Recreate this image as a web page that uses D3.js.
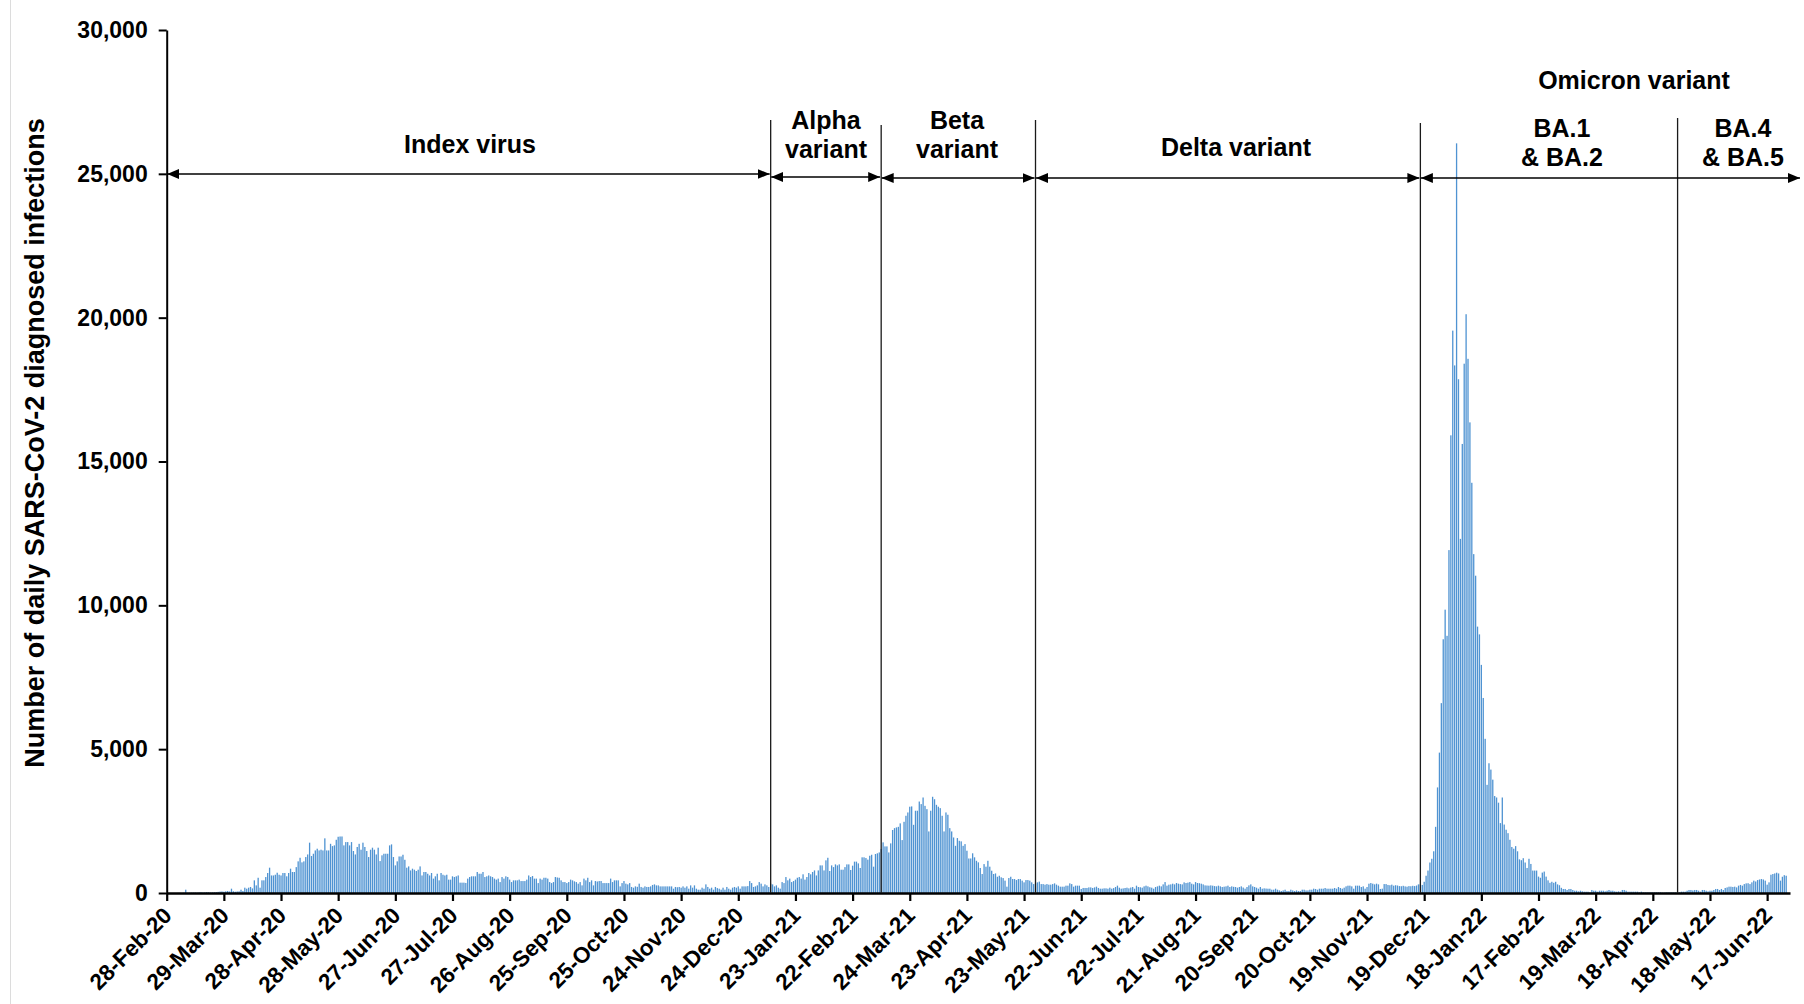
<!DOCTYPE html>
<html>
<head>
<meta charset="utf-8">
<script src="https://cdn.jsdelivr.net/npm/d3@7"></script>
<style>
  body { margin: 0; background: #fff; }
  svg text { font-family: Arial, "Liberation Sans", sans-serif; font-weight: bold; fill: #000; }
</style>
</head>
<body>
<svg id="chart" width="1804" height="1004"></svg>
<script>
// daily diagnosed infections, one value per day starting 28-Feb-20
let firstDay = '2020-02-28';

let indexVirusCases = [
  0,1,0,0,0,0,3,4,1,7, 115,5,8,10,12,15,10,20,25,15, 20,30,25,15,20,25,30,40,50,55,
  45,60,70,55,150,60,45,55,60,115, 70,185,150,185,210,160,
  440,265,530,185,440,440,555,695,880,610, 610,635,705,635,610,695,695,580,695,845,
  730,730,900,1100,1225,1065,1100,1250,1340,1750, 1285,1365,1480,1540,1480,1505,1480,1900,1480,1480,
  1710,1630,1655,1850,1955,1965,1965,1655,1770,1770, 1655,1770,1460,1340,1600,1710,1505,1750,1600,1460,
  1250,1505,1575,1505,1340,1575,1110,1310,1365,1365, 1365,1655,1690,1250,960,1100,1270,1270,1330,1155,
  880,925,785,845,810,765,810,925,610,730, 730,670,610,695,500,580,670,440,695,635,
  610,635,465,465,580,555,580,610,360,360, 360,350,500,555,580,580,580,730,670,670,
  730,555,580,610,580,555,500,465,500,380, 555,500,580,555,465,380,440,440,
  440,465,415,415,415,465,610,555,590,500,500,345,500,465,530,530,500,380,345,380,555,540,
  530,440,380,380,345,380,465,440,405,380,325,380,265,500,440,530,380,440,265,415,400,
  415,415,345,345,345,345,500,380,440,440,440,230,345,415,325,300,345,210,185,230,215,
  325,210,185,230,210,210,230,280,300,265,265,230,230,230,230,230,230,230,150,210,200,
  210,185,230,185,230,150,265,185,265,150,115,115,185,150,300,210,150,185,115,210,170,
  150,115,185,115,210,150,115,185,210,185,230,150,230,230,230,240,
  415,345,210,230,265,380,325,230,300,265,210
];

let alphaCases = [
  325,300,230,265,185,150,380,345,555,440, 500,380,415,465,530,555,500,650,465,555,
  695,650,730,785,610,785,960,960,785,1135, 1225,765,960,900,995,960,995,810,810,900,
  995,995,800,950,1090,1090,1030,870,1240,1240, 1215,1160,1295,1330,915,1355,1380,1410
];

let betaCases = [
  1530,1760,1620,1620,1410,1725,2190,2255,2280,2300, 2420,1840,2475,2685,2800,3000,3010,
  2370,2860,2860,3180,3090,3320,3030,2915,2140,2860, 3345,3260,3065,3000,2950,2685,2140,2800,
  2720,2255,2140,1930,1640,1910,1815,1795,1640,1700, 1470,1200,1200,1380,1240,1120,1065,870,660,1005,
  915,1120,915,775,660,680,565,600,545,
  520,430,220,520,565,485,485,450,485,485, 430,370,450,450,430,370,310
];

let deltaCases = [
  335,370,395,310,310,290,310,290,290,310, 335,290,255,220,220,220,255,255,335,310,
  220,255,255,255,140,175,175,175,195,195, 175,195,220,175,
  150,150,162,162,150,185,150,170,208,255, 185,150,160,174,185,162,190,208,150,255,
  208,200,185,231,255,231,200,185,150,208, 230,255,231,300,380,255,290,300,324,300,
  347,324,310,300,370,347,360,380,324,300, 380,347,340,324,300,265,260,255,265,255,
  240,231,255,231,208,220,231,255,208,231, 215,208,185,208,231,190,150,208,265,300,
  231,210,185,150,208,150,162,155,150,150, 115,
  115,150,115,90,70,90,115,70,70,115, 90,70,90,70,70,115,115,90,90,115,
  115,150,140,115,150,150,150,174,150,150, 150,150,174,150,208,174,150,185,231,255,
  255,231,150,255,255,255,208,231,150,208, 324,347,324,300,324,300,140,150,310,310,
  280,270,290,255,270,260,240,235,250,230, 220,240,235,250,240,260,300
];

let omicronBA12Cases = [
  300,280,
  390,600,780,1060,1190,1450,2300,3670,4880,6600, 8820,9850,8940,11920,15910,19550,18340,26060,17860,12310,
  15610,18400,20120,18570,16360,14260,11780,11030,9260,8990, 7930,6780,5360,3760,4510,4290,3940,3370,3320,3140,
  2430,3320,2380,2200,2080,1850,1600,1540,1630,1450, 1170,1140,1210,1060,870,1190,1010,780,780,780,
  570,530,710,745,570,440,355,390,355,390, 300,270,180,
  140,140,105,140,140,105,80,80,58,80, 58,46,46,46,23,105,80,80,46,80,
  80,80,58,80,105,80,80,58,46,58, 46,105,105,80,46,46,46,46,46,46,
  23,46,23,23,23,23,23,23,23,23, 23,23,12,12,23,23,23,23,23,23
];

let omicronBA45Cases = [
  23,23,46,46,46,80,105,105,90,105, 105,80,46,105,105,80,58,80,80,105,
  140,140,105,140,105,175,195,220,220,210, 220,195,255,280,255,310,335,340,310,370,
  430,400,450,470,485,470,430,290,370,635, 660,680,705,680,430,565,620,600
];

let tickLabels = ['28-Feb-20','29-Mar-20','28-Apr-20','28-May-20','27-Jun-20','27-Jul-20','26-Aug-20',
  '25-Sep-20','25-Oct-20','24-Nov-20','24-Dec-20','23-Jan-21','22-Feb-21','24-Mar-21','23-Apr-21',
  '23-May-21','22-Jun-21','22-Jul-21','21-Aug-21','20-Sep-21','20-Oct-21','19-Nov-21','19-Dec-21',
  '18-Jan-22','17-Feb-22','19-Mar-22','18-Apr-22','18-May-22','17-Jun-22'];

let yTicks = [0, 5000, 10000, 15000, 20000, 25000, 30000];

// start of each variant period (vertical separators)
let dividerDates = ['2021-01-10', '2021-03-09', '2021-05-29', '2021-12-17', '2022-05-01'];

let periodNames = [['Index virus'], ['Alpha', 'variant'], ['Beta', 'variant'], ['Delta variant'],
  ['Omicron variant'], ['BA.1', '& BA.2'], ['BA.4', '& BA.5']];

let yTitle = 'Number of daily SARS-CoV-2 diagnosed infections';

// ---- layout ----
let width = 1804, height = 1004;
let plotLeft = 166.7, plotRight = 1790, plotTop = 30, plotBottom = 893;
let labelPos = [[470,153],[826,129],[957,129],[1236,156],[1634,89],[1562,137],[1743,137]];
let dividerTops = [120, 125, 120, 123, 118];
let arrowYs = [174, 177, 178, 178, 178];

let parseIso = d3.utcParse('%Y-%m-%d');
let parseTick = d3.utcParse('%d-%b-%y');
let startDate = parseIso(firstDay);

let dailyCases = [].concat(indexVirusCases, alphaCases, betaCases, deltaCases, omicronBA12Cases, omicronBA45Cases);
let dailyData = dailyCases.map((v, i) => ({ date: d3.utcDay.offset(startDate, i), value: v }));

let svg = d3.select('#chart');

let xScale = d3.scaleUtc()
  .domain([startDate, parseIso('2022-06-29')])
  .range([plotLeft, plotRight]);

let yScale = d3.scaleLinear()
  .domain([0, 30000])
  .range([plotBottom, plotTop]);

// faint frame line on the left edge
svg.append('line')
  .attr('x1', 10.5).attr('x2', 10.5).attr('y1', 0).attr('y2', height)
  .attr('stroke', '#dcdcdc').attr('stroke-width', 1);

// bars
let barWidth = 1.3;
svg.append('g')
  .selectAll('rect')
  .data(dailyData)
  .enter()
  .append('rect')
  .attr('x', d => xScale(d.date) - barWidth / 2)
  .attr('y', d => yScale(d.value))
  .attr('width', barWidth)
  .attr('height', d => plotBottom - yScale(d.value))
  .attr('fill', '#4f93d2');

// y axis
let yAxis = d3.axisLeft(yScale)
  .tickValues(yTicks)
  .tickFormat(d3.format(','))
  .tickSize(8)
  .tickPadding(11)
  .tickSizeOuter(0);

let yAxisG = svg.append('g')
  .attr('transform', `translate(${plotLeft},0)`)
  .call(yAxis);
yAxisG.select('.domain').attr('stroke', '#000').attr('stroke-width', 2);
yAxisG.selectAll('.tick line').attr('stroke', '#000').attr('stroke-width', 2);
yAxisG.selectAll('.tick text').style('font-size', '23px').attr('font-family', null);

// x axis
let tickDates = tickLabels.map(parseTick);
let xAxis = d3.axisBottom(xScale)
  .tickValues(tickDates)
  .tickFormat(d3.utcFormat('%d-%b-%y'))
  .tickSize(8)
  .tickSizeOuter(0);

let xAxisG = svg.append('g')
  .attr('transform', `translate(0,${plotBottom})`)
  .call(xAxis);
xAxisG.select('.domain').attr('stroke', '#000').attr('stroke-width', 2.5);
xAxisG.selectAll('.tick line').attr('stroke', '#000').attr('stroke-width', 2.2);
xAxisG.selectAll('.tick text')
  .attr('x', 0).attr('y', 0).attr('dy', 0)
  .attr('text-anchor', 'end')
  .attr('transform', 'translate(6,24) rotate(-45)')
  .style('font-size', '22.5px');

// period dividers
let dividerX = dividerDates.map(d => xScale(parseIso(d)));
svg.append('g')
  .selectAll('line')
  .data(dividerX)
  .enter()
  .append('line')
  .attr('x1', d => d).attr('x2', d => d)
  .attr('y1', (d, i) => dividerTops[i])
  .attr('y2', plotBottom)
  .attr('stroke', '#1a1a1a')
  .attr('stroke-width', 1.3);

// double headed arrows
let defs = svg.append('defs');
defs.append('marker')
  .attr('id', 'head')
  .attr('markerUnits', 'userSpaceOnUse')
  .attr('viewBox', '0 0 12 10')
  .attr('refX', 12).attr('refY', 5)
  .attr('markerWidth', 12).attr('markerHeight', 10)
  .attr('orient', 'auto-start-reverse')
  .append('path')
  .attr('d', 'M0,0 L12,5 L0,10 Z')
  .attr('fill', '#000');

let arrowEnds = [plotLeft].concat(dividerX.slice(0, 4));
let arrowStops = dividerX.slice(0, 4).concat([1801]);
let arrows = arrowEnds.map((x, i) => ({ x1: x + 0.5, x2: arrowStops[i] - 1, y: arrowYs[i] }));

svg.append('g')
  .selectAll('line')
  .data(arrows)
  .enter()
  .append('line')
  .attr('x1', d => d.x1).attr('x2', d => d.x2)
  .attr('y1', d => d.y).attr('y2', d => d.y)
  .attr('stroke', '#000')
  .attr('stroke-width', 1.6)
  .attr('marker-start', 'url(#head)')
  .attr('marker-end', 'url(#head)');

// period labels
let labelG = svg.append('g')
  .selectAll('text')
  .data(periodNames)
  .enter()
  .append('text')
  .attr('text-anchor', 'middle')
  .attr('x', (d, i) => labelPos[i][0])
  .attr('y', (d, i) => labelPos[i][1])
  .style('font-size', '25px');

labelG.selectAll('tspan')
  .data(d => d)
  .enter()
  .append('tspan')
  .attr('x', function() { return this.parentNode.getAttribute('x'); })
  .attr('dy', (d, i) => i === 0 ? 0 : 28.5)
  .text(d => d);

// y axis title
svg.append('text')
  .attr('transform', 'translate(44,443) rotate(-90)')
  .attr('text-anchor', 'middle')
  .style('font-size', '27px')
  .text(yTitle);
</script>
</body>
</html>
